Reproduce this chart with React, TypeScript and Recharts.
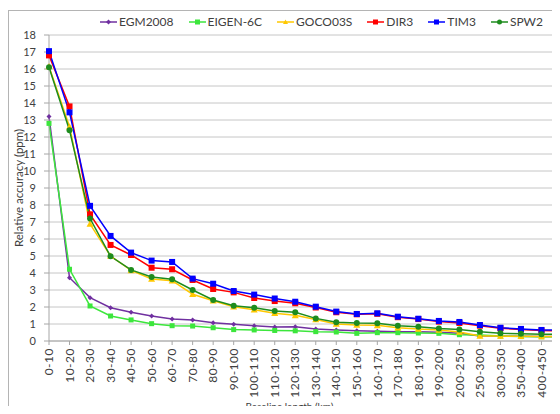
import React from 'react';
import { LineChart, Line, XAxis, YAxis, CartesianGrid } from 'recharts';

const categories = [
  '0-10', '10-20', '20-30', '30-40', '40-50', '50-60', '60-70', '70-80', '80-90', '90-100',
  '100-110', '110-120', '120-130', '130-140', '140-150', '150-160', '160-170', '170-180',
  '180-190', '190-200', '200-250', '250-300', '300-350', '350-400', '400-450', '450-500',
];

const egm2008 = [13.2, 3.72, 2.55, 1.96, 1.69, 1.47, 1.29, 1.24, 1.08, 0.98, 0.9, 0.82, 0.84, 0.71, 0.65, 0.61, 0.57, 0.55, 0.55, 0.51, 0.45, 0.3, 0.29, 0.28, 0.27, 0.27];
const eigen6c = [12.8, 4.22, 2.06, 1.47, 1.24, 1.02, 0.9, 0.88, 0.78, 0.67, 0.65, 0.62, 0.6, 0.55, 0.53, 0.45, 0.49, 0.49, 0.47, 0.45, 0.37, 0.36, 0.29, 0.26, 0.25, 0.24];
const goco03s = [16.15, 12.6, 6.88, 5.0, 4.15, 3.65, 3.55, 2.75, 2.37, 2.02, 1.84, 1.63, 1.51, 1.27, 1.0, 0.94, 0.92, 0.78, 0.71, 0.65, 0.53, 0.3, 0.29, 0.28, 0.27, 0.27];
const dir3 = [16.8, 13.8, 7.45, 5.65, 5.06, 4.31, 4.22, 3.59, 3.06, 2.86, 2.53, 2.35, 2.22, 1.97, 1.69, 1.57, 1.6, 1.4, 1.29, 1.14, 1.06, 0.9, 0.75, 0.68, 0.62, 0.6];
const tim3 = [17.05, 13.45, 7.95, 6.18, 5.2, 4.73, 4.65, 3.67, 3.37, 2.94, 2.73, 2.5, 2.31, 2.02, 1.73, 1.59, 1.63, 1.43, 1.31, 1.18, 1.12, 0.94, 0.78, 0.71, 0.65, 0.63];
const spw2 = [16.1, 12.4, 7.2, 4.98, 4.18, 3.76, 3.63, 3.0, 2.41, 2.08, 1.96, 1.76, 1.69, 1.33, 1.1, 1.06, 1.05, 0.9, 0.84, 0.73, 0.67, 0.55, 0.45, 0.42, 0.4, 0.39];

const yTicks = [0, 1, 2, 3, 4, 5, 6, 7, 8, 9, 10, 11, 12, 13, 14, 15, 16, 17, 18];

const data = categories.map((name, i) => ({
  name,
  EGM2008: egm2008[i],
  'EIGEN-6C': eigen6c[i],
  GOCO03S: goco03s[i],
  DIR3: dir3[i],
  TIM3: tim3[i],
  SPW2: spw2[i],
}));

type Shape = 'diamond' | 'square' | 'triangle' | 'circle';
const series: { key: string; color: string; shape: Shape; size: number }[] = [
  { key: 'EGM2008', color: '#7030A0', shape: 'diamond', size: 5 },
  { key: 'EIGEN-6C', color: '#3CE63C', shape: 'square', size: 5 },
  { key: 'GOCO03S', color: '#FFC800', shape: 'triangle', size: 7 },
  { key: 'DIR3', color: '#FF0000', shape: 'square', size: 6 },
  { key: 'TIM3', color: '#0000FF', shape: 'square', size: 6 },
  { key: 'SPW2', color: '#1E8C1E', shape: 'circle', size: 6 },
];

const FONT = 'Lato, "Open Sans", sans-serif';
const TEXT = '#404040';

function marker(shape: Shape, cx: number, cy: number, size: number, color: string, key?: any) {
  const h = size / 2;
  if (shape === 'square') return <rect key={key} x={cx - h} y={cy - h} width={size} height={size} fill={color} />;
  if (shape === 'circle') return <circle key={key} cx={cx} cy={cy} r={h} fill={color} />;
  if (shape === 'triangle')
    return <polygon key={key} points={`${cx},${cy - h} ${cx + h},${cy + h * 0.8} ${cx - h},${cy + h * 0.8}`} fill={color} />;
  return <polygon key={key} points={`${cx},${cy - h} ${cx + h},${cy} ${cx},${cy + h} ${cx - h},${cy}`} fill={color} />;
}

const XTick = (props: any) => {
  const { x, y, payload } = props;
  return (
    <text
      x={x}
      y={y}
      transform={`rotate(-90, ${x}, ${y})`}
      textAnchor="end"
      dy="0.35em"
      fill={TEXT}
      fontSize={12}
      letterSpacing={0.5}
      fontFamily={FONT}
    >
      {payload.value}
    </text>
  );
};

const Legend = () => (
  <div
    style={{
      position: 'absolute',
      left: 92,
      top: 6,
      display: 'flex',
      gap: 15,
      fontFamily: FONT,
      fontSize: 12,
      color: TEXT,
      whiteSpace: 'nowrap',
      lineHeight: '16px',
    }}
  >
    {series.map((s) => (
      <div key={s.key} style={{ display: 'flex', alignItems: 'center' }}>
        <svg width={17} height={8} style={{ marginRight: 2 }}>
          <line x1={0} y1={4} x2={17} y2={4} stroke={s.color} strokeWidth={1.5} />
          {marker(s.shape, 8.5, 4, Math.min(s.size, 5), s.color)}
        </svg>
        <span>{s.key}</span>
      </div>
    ))}
  </div>
);

export default function App() {
  return (
    <div style={{ position: 'relative', width: 552, height: 406, overflow: 'hidden', marginBottom: -8, background: '#fff' }}>
      <div
        style={{
          position: 'absolute',
          left: 0,
          top: 2,
          right: -10,
          bottom: -10,
          borderLeft: '1px solid #B4B4B4',
          borderTop: '1px solid #B4B4B4',
        }}
      />
      <LineChart
        width={600}
        height={406}
        data={data}
        margin={{ top: 27, right: 46, bottom: 0, left: 0 }}
        style={{ fontFamily: FONT }}
      >
        <CartesianGrid horizontal vertical={false} stroke="#C6C6C6" strokeWidth={1} />
        <XAxis
          dataKey="name"
          type="category"
          scale="point"
          interval={0}
          height={73}
          tickSize={4}
          tickMargin={3}
          tick={<XTick />}
          axisLine={{ stroke: '#A6A6A6' }}
          tickLine={{ stroke: '#A6A6A6' }}
          label={{
            value: 'Baseline length (km)',
            position: 'insideBottom',
            offset: 4,
            dx: -16,
            fill: TEXT,
            fontSize: 10,
            fontFamily: FONT,
          }}
        />
        <YAxis
          type="number"
          domain={[0, 18]}
          ticks={yTicks}
          interval={0}
          width={41}
          tickSize={5}
          tickMargin={8}
          tick={{ fill: TEXT, fontSize: 11, fontFamily: FONT }}
          axisLine={{ stroke: '#A6A6A6' }}
          tickLine={{ stroke: '#A6A6A6' }}
          label={{
            content: (p: any) => {
              const vb = p.viewBox || { x: 0, y: 27, width: 41, height: 306 };
              const cy = vb.y + vb.height / 2;
              return (
                <text
                  x={10}
                  y={cy}
                  transform={`rotate(-90, 10, ${cy})`}
                  textAnchor="middle"
                  dominantBaseline="central"
                  fill={TEXT}
                  fontSize={11.5}
                  fontFamily={FONT}
                >
                  Relative accuracy (ppm)
                </text>
              );
            },
          }}
        />
        {series.map((s) => (
          <Line
            key={s.key}
            type="linear"
            dataKey={s.key}
            stroke={s.color}
            strokeWidth={1.5}
            isAnimationActive={false}
            dot={(p: any) => marker(s.shape, p.cx, p.cy, s.size, s.color, `${s.key}-${p.index}`)}
            activeDot={false}
          />
        ))}
      </LineChart>
      <Legend />
    </div>
  );
}
